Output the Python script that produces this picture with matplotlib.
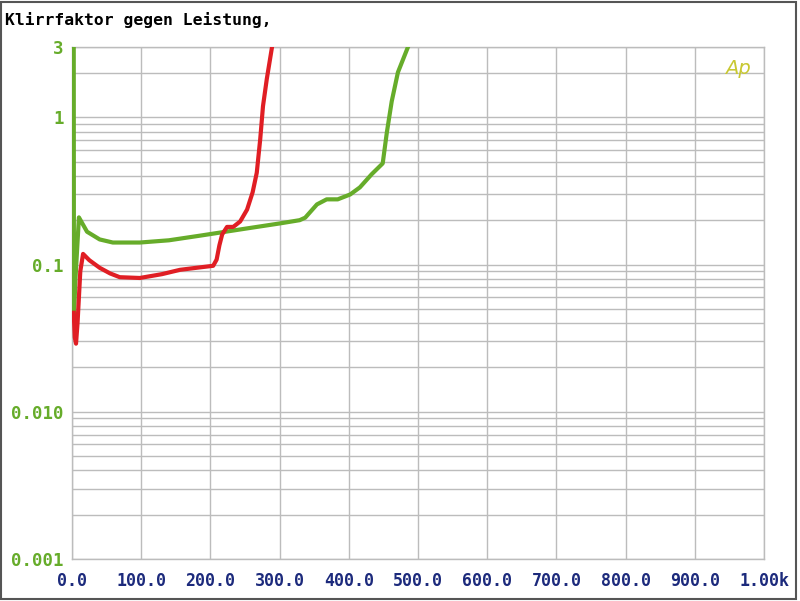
import matplotlib
matplotlib.use("Agg")
import matplotlib.pyplot as plt
from matplotlib.ticker import FixedLocator, NullFormatter
from matplotlib.patches import Rectangle

# Data (power in W vs THD in %)
green_x = [2.5, 2.8, 5.0, 10.0, 21.7, 40.0, 59.0, 98.0, 140.0, 185.0, 250.0, 300.0, 329.0, 337.0,
           354.0, 368.0, 384.0, 402.0, 416.0, 433.0, 449.0, 455.0, 462.0, 471.0, 486.0]
green_y = [3.2, 0.044, 0.08, 0.209, 0.167, 0.148, 0.141, 0.141, 0.146, 0.157, 0.175, 0.19, 0.2, 0.208,
           0.256, 0.277, 0.277, 0.299, 0.334, 0.41, 0.486, 0.79, 1.28, 2.02, 3.04]

red_x = [2.5, 4.0, 5.8, 8.0, 12.0, 16.0, 25.0, 40.0, 55.0, 69.0, 98.0, 130.0, 156.0, 180.0, 204.0, 209.0,
         213.0, 217.0, 224.0, 233.0, 243.0, 253.0, 261.0, 267.0, 272.0, 276.0, 281.5, 289.0]
red_y = [0.047, 0.032, 0.029, 0.04, 0.09, 0.118, 0.107, 0.095, 0.087, 0.082, 0.081, 0.086, 0.092, 0.095, 0.098,
         0.108, 0.135, 0.16, 0.18, 0.18, 0.196, 0.236, 0.309, 0.42, 0.71, 1.19, 1.82, 2.99]

x_ticks = [0, 100, 200, 300, 400, 500, 600, 700, 800, 900, 1000]
x_labels = ["0.0", "100.0", "200.0", "300.0", "400.0", "500.0", "600.0", "700.0", "800.0", "900.0", "1.00k"]
y_ticks = [0.001, 0.01, 0.1, 1, 3]
y_labels = ["0.001", "0.010", "0.1", "1", "3"]
title = "Klirrfaktor gegen Leistung,"

GREEN = "#66ac2a"
RED = "#e01e24"
NAVY = "#1c2a7c"
GRID = "#bcbcbc"

fig = plt.figure(figsize=(8.0, 6.01), dpi=100)
ax = fig.add_axes([72/800, (601-559)/601, (764-72)/800, (559-47)/601])

ax.set_yscale("log")
ax.set_xlim(0, 1000)
ax.set_ylim(0.001, 3)

# grid
minor = []
for dec in [0.001, 0.01, 0.1, 1]:
    for m in range(1, 10):
        v = dec * m
        if v <= 3:
            minor.append(v)
for v in minor:
    ax.axhline(v, color=GRID, lw=1.0, zorder=1)
for xv in x_ticks:
    ax.axvline(xv, color=GRID, lw=1.0, zorder=1)

ax.plot(green_x, green_y, color=GREEN, lw=3, zorder=3, solid_joinstyle="round")
ax.plot(red_x, red_y, color=RED, lw=3, zorder=4, solid_joinstyle="round")

for s in ax.spines.values():
    s.set_color(GRID)
    s.set_linewidth(1.0)
    s.set_zorder(0.5)

ax.xaxis.set_major_locator(FixedLocator(x_ticks))
ax.set_xticklabels(x_labels, family="DejaVu Sans Mono", fontsize=12, color=NAVY, fontweight="bold")
ax.yaxis.set_major_locator(FixedLocator(y_ticks))
ax.yaxis.set_minor_locator(FixedLocator([]))
ax.yaxis.set_minor_formatter(NullFormatter())
ax.set_yticklabels(y_labels, family="DejaVu Sans Mono", fontsize=12.5, color=GREEN, fontweight="bold")
ax.tick_params(axis="both", which="both", length=0)
ax.tick_params(axis="x", pad=9)
ax.tick_params(axis="y", pad=6)

# Ap logo
ax.plot([903, 935], [2.0, 2.0], color=GRID, lw=1.0, zorder=2)
ax.text(943, 2.15, "Ap", color="#c8c832", fontsize=14, style="italic", va="center", ha="left", zorder=5)

fig.text(5/800, 1 - 20/601, title, family="DejaVu Sans Mono", fontsize=11.8, fontweight="bold",
         color="black", va="center", ha="left")

fig.patches.append(Rectangle((0.001, 0.003), 0.994, 0.993, transform=fig.transFigure,
                             fill=False, edgecolor="#555555", lw=1.5))

fig.savefig("out.png", dpi=100)
